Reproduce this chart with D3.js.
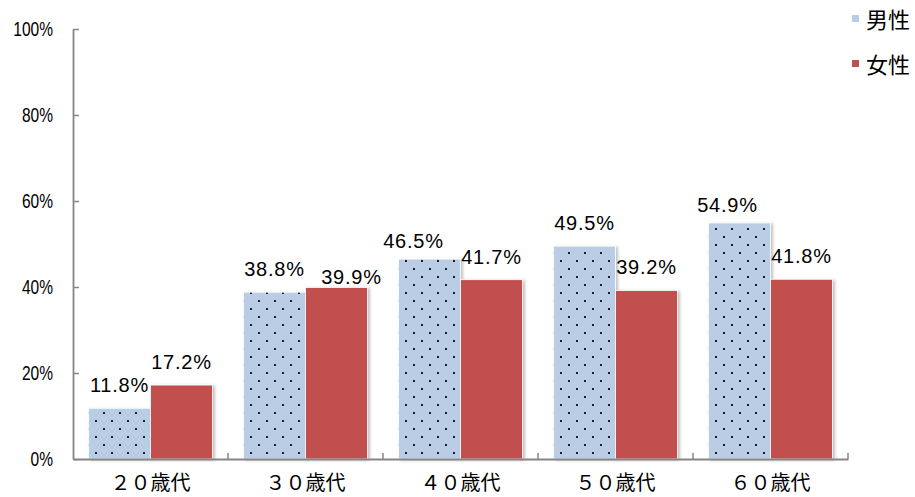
<!DOCTYPE html>
<html>
<head>
<meta charset="utf-8">
<script src="https://cdn.jsdelivr.net/npm/d3@7"></script>
<style>
    body { margin: 0; background: #fff; }
    text { fill: #000; }
</style>
</head>
<body>
<div id="main"></div>
<script>
// chart data
const categories = ['２０歳代', '３０歳代', '４０歳代', '５０歳代', '６０歳代'];
const seriesNames = ['男性', '女性'];
const maleValues = [11.8, 38.8, 46.5, 49.5, 54.9];
const femaleValues = [17.2, 39.9, 41.7, 39.2, 41.8];
const yTicks = [0, 20, 40, 60, 80, 100];

const width = 915, height = 497;
const margin = { top: 29, right: 67, bottom: 38, left: 73 };
const colors = { male: '#b9cde5', female: '#c0504d', axis: '#868686' };

// labels that were dragged off their default spot in the original
const labelNudge = {
    '４０歳代|男性': [-16, 5],
    '６０歳代|男性': [-12, 5],
    '３０歳代|女性': [15, 13]
};

const rows = categories.map((c, i) => ({
    cat: c,
    vals: [
        { s: seriesNames[0], v: maleValues[i] },
        { s: seriesNames[1], v: femaleValues[i] }
    ]
}));

const svg = d3.select('#main')
    .append('svg')
    .attr('width', width)
    .attr('height', height);

const defs = svg.append('defs');

const pat = defs.append('pattern')
    .attr('id', 'dots')
    .attr('patternUnits', 'userSpaceOnUse')
    .attr('width', 16)
    .attr('height', 16)
    .attr('x', 3)
    .attr('y', 1);
pat.append('rect').attr('width', 16).attr('height', 16).attr('fill', colors.male);
pat.append('rect').attr('x', 3).attr('y', 3).attr('width', 2).attr('height', 2).attr('fill', '#1a1a2e');
pat.append('rect').attr('x', 11).attr('y', 11).attr('width', 2).attr('height', 2).attr('fill', '#1a1a2e');

const shadow = defs.append('filter')
    .attr('id', 'shadow')
    .attr('x', '-10%').attr('y', '-10%')
    .attr('width', '130%').attr('height', '130%');
shadow.append('feDropShadow')
    .attr('dx', 2).attr('dy', 1)
    .attr('stdDeviation', 1.5)
    .attr('flood-color', '#000')
    .attr('flood-opacity', 0.25);

const x0 = d3.scaleBand()
    .domain(categories)
    .range([margin.left, width - margin.right]);

const x1 = d3.scaleBand()
    .domain(seriesNames)
    .range([0, x0.bandwidth()])
    .paddingOuter(0.25);

const y = d3.scaleLinear()
    .domain([0, 100])
    .range([height - margin.bottom, margin.top]);

// bars
const groups = svg.selectAll('g.group')
    .data(rows)
    .enter()
    .append('g')
    .attr('class', 'group')
    .attr('transform', d => `translate(${x0(d.cat)},0)`);

groups.selectAll('rect')
    .data(d => d.vals)
    .enter()
    .append('rect')
    .attr('x', d => x1(d.s))
    .attr('y', d => y(d.v))
    .attr('width', x1.bandwidth())
    .attr('height', d => y(0) - y(d.v))
    .attr('fill', d => d.s === seriesNames[0] ? 'url(#dots)' : colors.female)
    .attr('stroke', '#fff')
    .attr('stroke-width', 0.8)
    .attr('filter', 'url(#shadow)');

// value labels
groups.each(function(g) {
    d3.select(this).selectAll('text.val')
        .data(g.vals)
        .enter()
        .append('text')
        .attr('class', 'val')
        .attr('x', d => x1(d.s) + x1.bandwidth() / 2 + (labelNudge[g.cat + '|' + d.s] || [0, 0])[0])
        .attr('y', d => y(d.v) - 16 + (labelNudge[g.cat + '|' + d.s] || [0, 0])[1])
        .attr('text-anchor', 'middle')
        .style('font-family', '"Liberation Sans", Arial, sans-serif')
        .style('font-size', '20px')
        .style('letter-spacing', '0.8px')
        .text(d => d.v.toFixed(1) + '%');
});

// y axis
const yAxis = svg.append('g')
    .attr('transform', `translate(${margin.left},0)`)
    .call(d3.axisLeft(y)
        .tickValues(yTicks)
        .tickSize(-6)
        .tickSizeOuter(0)
        .tickFormat(d => d + '%'));
yAxis.select('.domain').attr('stroke', colors.axis).attr('stroke-width', 1.8);
yAxis.selectAll('.tick line').attr('stroke', colors.axis).attr('stroke-width', 1.5);
// narrow the tick labels, as in the original
yAxis.selectAll('.tick text')
    .attr('x', 0)
    .attr('transform', 'translate(-20,0) scale(0.74,1)')
    .style('font-family', '"Liberation Sans", Arial, sans-serif')
    .style('font-size', '21px')
    .attr('fill', '#000');

// x axis
const xAxis = svg.append('g')
    .attr('transform', `translate(0,${y(0)})`)
    .call(d3.axisBottom(x0).tickSize(0).tickSizeOuter(0));
xAxis.select('.domain').attr('stroke', colors.axis).attr('stroke-width', 1.8);
xAxis.selectAll('.tick text')
    .attr('y', 31)
    .attr('dy', null)
    .attr('fill', '#000')
    .style('font-family', '"Noto Sans CJK JP", sans-serif')
    .style('font-size', '20px');

xAxis.selectAll('line.sep')
    .data(categories)
    .enter()
    .append('line')
    .attr('class', 'sep')
    .attr('x1', d => x0(d) + x0.bandwidth())
    .attr('x2', d => x0(d) + x0.bandwidth())
    .attr('y1', 0)
    .attr('y2', -6)
    .attr('stroke', colors.axis)
    .attr('stroke-width', 1.5);

// legend
const legend = svg.append('g')
    .attr('transform', 'translate(852,15)');
const legendItems = legend.selectAll('g')
    .data(seriesNames)
    .enter()
    .append('g')
    .attr('transform', (d, i) => `translate(0,${i * 45})`);
legendItems.append('rect')
    .attr('width', 7)
    .attr('height', 7)
    .attr('fill', (d, i) => i === 0 ? colors.male : colors.female);
legendItems.append('text')
    .attr('x', 14)
    .attr('y', 13)
    .style('font-family', '"Noto Sans CJK JP", sans-serif')
    .style('font-size', '22px')
    .text(d => d);
</script>
</body>
</html>
